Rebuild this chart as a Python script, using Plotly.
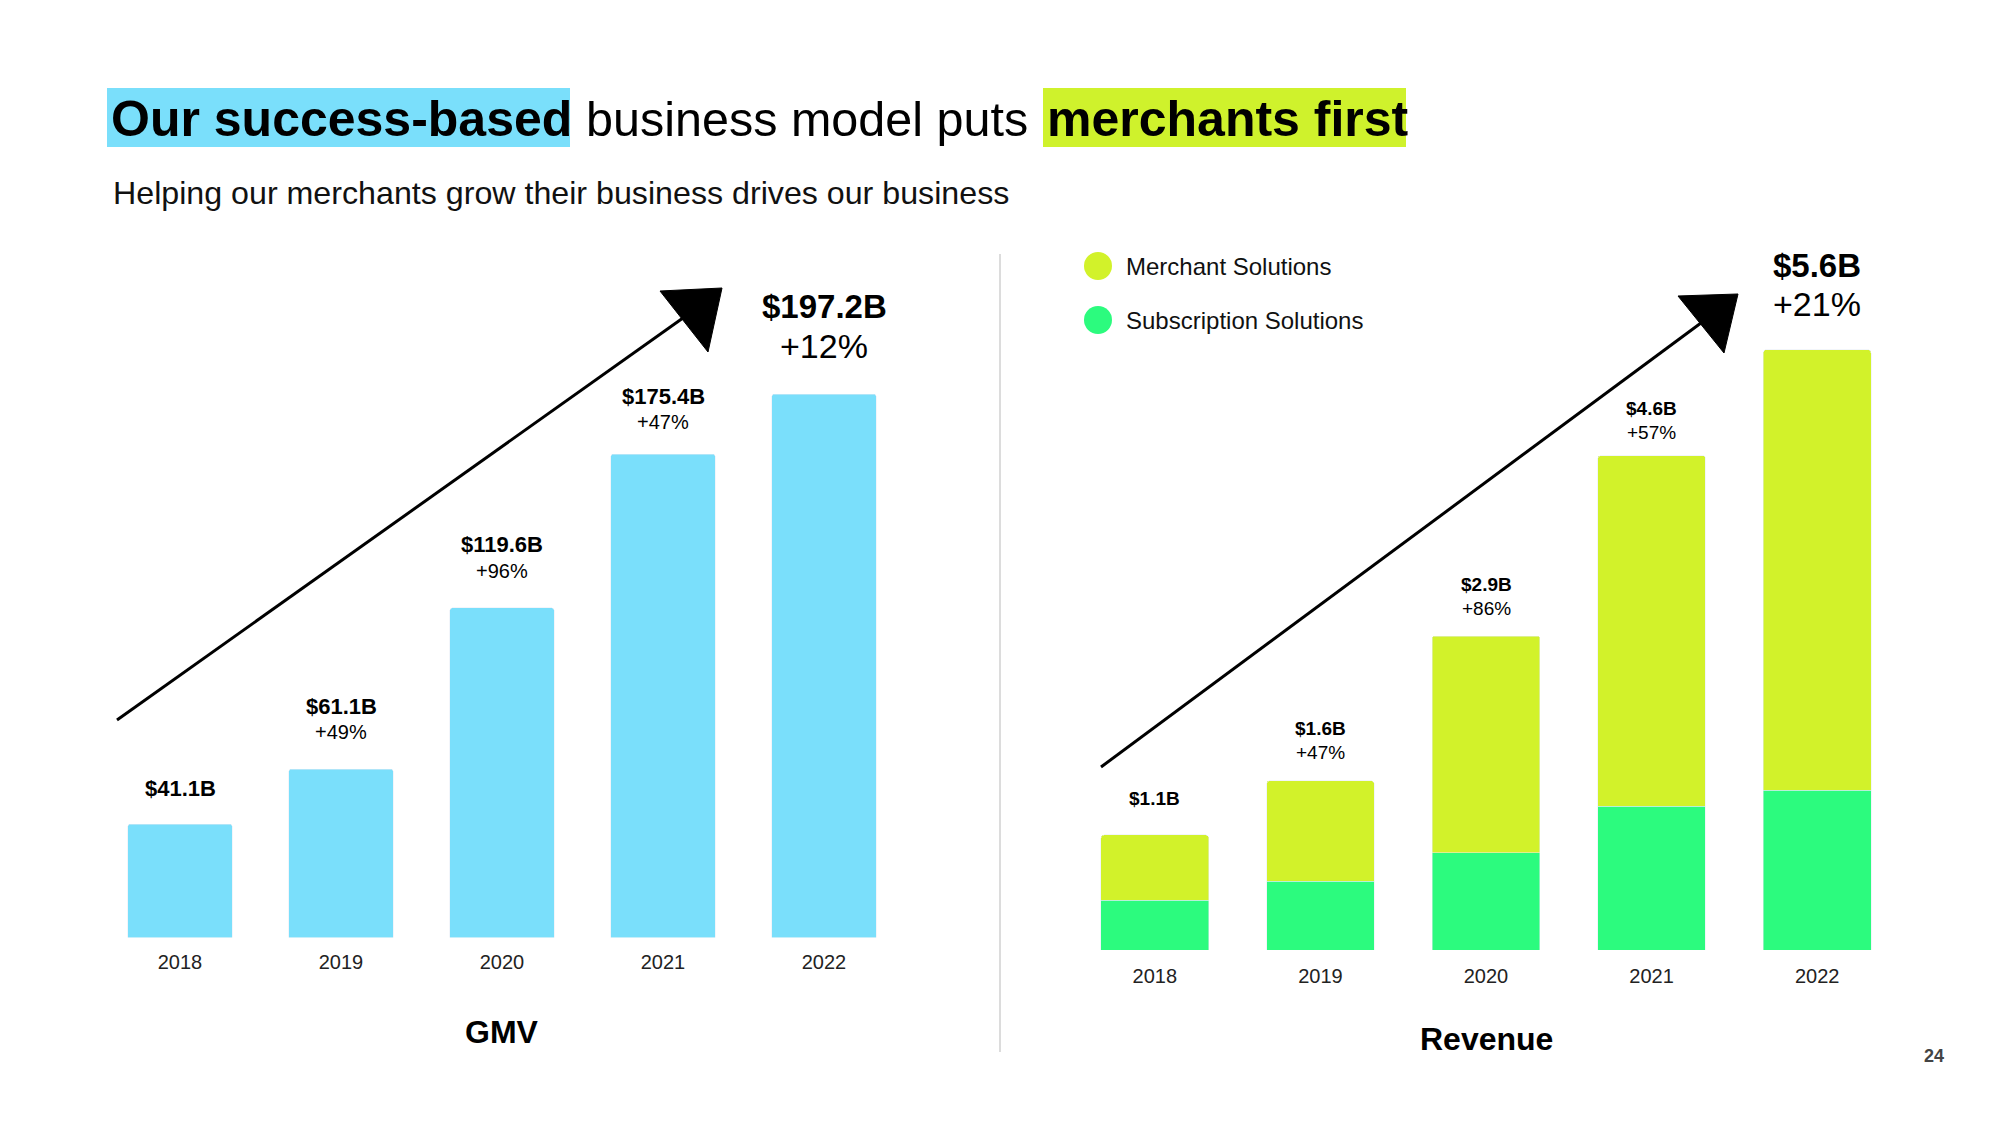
import plotly.graph_objects as go

# ---------------- data ----------------
years = ["2018", "2019", "2020", "2021", "2022"]
gmv = [41.1, 61.1, 119.6, 175.4, 197.2]
gmv_labels = ["$41.1B", "$61.1B", "$119.6B", "$175.4B", "$197.2B"]
gmv_growth = ["", "+49%", "+96%", "+47%", "+12%"]

rev_subscription = [0.465, 0.642, 0.909, 1.343, 1.488]
rev_merchant = [0.608, 0.936, 2.020, 3.269, 4.112]
rev_labels = ["$1.1B", "$1.6B", "$2.9B", "$4.6B", "$5.6B"]
rev_growth = ["", "+47%", "+86%", "+57%", "+21%"]

series_names = ["Merchant Solutions", "Subscription Solutions"]

# ---------------- styling ----------------
W, H = 2000, 1125
FONT = "Liberation Sans, Arial, Helvetica, sans-serif"
CYAN = "#7ADFFB"
LIME = "#D2F22A"
MINT = "#2CFB7E"
HL_LIME = "#CFF22C"

# label offsets above bar tops (pixels): value line, growth line
gmv_val_shift = [36, 63, 63, 58, 88]
gmv_pct_shift = [0, 37, 37, 32, 48]
rev_val_shift = [36, 52, 52, 47, 84]
rev_pct_shift = [0, 28, 28, 23, 46]


def px(x):
    return x / W


def py(y):
    return 1 - y / H


fig = go.Figure()

fig.add_trace(go.Bar(x=years, y=gmv, marker_color=CYAN, xaxis="x", yaxis="y",
                     showlegend=False, hoverinfo="x+y"))
fig.add_trace(go.Bar(x=years, y=rev_subscription, name=series_names[1], marker_color=MINT,
                     xaxis="x2", yaxis="y2", showlegend=False))
fig.add_trace(go.Bar(x=years, y=rev_merchant, name=series_names[0], marker_color=LIME,
                     xaxis="x2", yaxis="y2", showlegend=False))

rev_total = [a + b for a, b in zip(rev_subscription, rev_merchant)]

ann = []
shapes = []

# --- title with highlight boxes ---
shapes.append(dict(type="rect", xref="paper", yref="paper", x0=px(107), x1=px(570),
                   y0=py(147), y1=py(88), fillcolor=CYAN, line_width=0, layer="below"))
shapes.append(dict(type="rect", xref="paper", yref="paper", x0=px(1043), x1=px(1406),
                   y0=py(147), y1=py(88), fillcolor=HL_LIME, line_width=0, layer="below"))
title_y = py(119)
ann.append(dict(text="<b>Our success-based</b>", x=px(109), y=title_y, xref="paper", yref="paper",
                xanchor="left", yanchor="middle", showarrow=False,
                font=dict(family=FONT, size=50, color="#000")))
ann.append(dict(text="business model puts", x=px(584), y=title_y, xref="paper", yref="paper",
                xanchor="left", yanchor="middle", showarrow=False,
                font=dict(family=FONT, size=48.5, color="#000")))
ann.append(dict(text="<b>merchants first</b>", x=px(1045), y=title_y, xref="paper", yref="paper",
                xanchor="left", yanchor="middle", showarrow=False,
                font=dict(family=FONT, size=50, color="#000")))
ann.append(dict(text="Helping our merchants grow their business drives our business",
                x=px(111), y=py(193), xref="paper", yref="paper", xanchor="left", yanchor="middle",
                showarrow=False, font=dict(family=FONT, size=32.2, color="#111")))

# --- GMV labels (x given as category index) ---
for i, (v, lab, g) in enumerate(zip(gmv, gmv_labels, gmv_growth)):
    big = i == len(gmv) - 1
    ann.append(dict(text=f"<b>{lab}</b>", x=i, y=v, xref="x", yref="y", yanchor="middle",
                    yshift=gmv_val_shift[i], showarrow=False,
                    font=dict(family=FONT, size=33 if big else 22, color="#000")))
    if g:
        ann.append(dict(text=g, x=i, y=v, xref="x", yref="y", yanchor="middle",
                        yshift=gmv_pct_shift[i], showarrow=False,
                        font=dict(family=FONT, size=34 if big else 20, color="#000")))

# --- Revenue labels ---
for i, (v, lab, g) in enumerate(zip(rev_total, rev_labels, rev_growth)):
    big = i == len(rev_total) - 1
    ann.append(dict(text=f"<b>{lab}</b>", x=i, y=v, xref="x2", yref="y2", yanchor="middle",
                    yshift=rev_val_shift[i], showarrow=False,
                    font=dict(family=FONT, size=33 if big else 19, color="#000")))
    if g:
        ann.append(dict(text=g, x=i, y=v, xref="x2", yref="y2", yanchor="middle",
                        yshift=rev_pct_shift[i], showarrow=False,
                        font=dict(family=FONT, size=34 if big else 19, color="#000")))

# --- chart titles ---
ann.append(dict(text="<b>GMV</b>", x=0.5, y=py(1032), xref="x domain", yref="paper",
                yanchor="middle", showarrow=False, font=dict(family=FONT, size=32, color="#000")))
ann.append(dict(text="<b>Revenue</b>", x=0.5, y=py(1039), xref="x2 domain", yref="paper",
                yanchor="middle", showarrow=False, font=dict(family=FONT, size=32, color="#000")))

# --- legend (custom) ---
for name, col, cy in [(series_names[0], LIME, 266), (series_names[1], MINT, 320)]:
    shapes.append(dict(type="circle", xref="paper", yref="paper", x0=px(1084), x1=px(1112),
                       y0=py(cy + 14), y1=py(cy - 14), fillcolor=col, line_width=0))
    ann.append(dict(text=name, x=px(1124), y=py(cy), xref="paper", yref="paper", xanchor="left",
                    yanchor="middle", showarrow=False, font=dict(family=FONT, size=24, color="#111")))

# --- page number ---
ann.append(dict(text="<b>24</b>", x=px(1946), y=py(1068), xref="paper", yref="paper",
                showarrow=False, font=dict(family=FONT, size=18, color="#444")))

# --- divider ---
shapes.append(dict(type="line", xref="paper", yref="paper", x0=px(1000), x1=px(1000),
                   y0=py(254), y1=py(1052), line=dict(color="#D0D0D0", width=1.5)))


# --- trend arrows ---
def arrow(start, join, tri):
    s = [dict(type="line", xref="paper", yref="paper", x0=px(start[0]), y0=py(start[1]),
              x1=px(join[0]), y1=py(join[1]), line=dict(color="#000", width=3))]
    path = "M " + " L ".join(f"{px(a):.5f},{py(b):.5f}" for a, b in tri) + " Z"
    s.append(dict(type="path", xref="paper", yref="paper", path=path, fillcolor="#000",
                  line=dict(color="#000", width=1)))
    return s


shapes += arrow((117, 720), (690, 313), [(660, 291), (722, 288), (708, 352)])
shapes += arrow((1101, 767), (1705, 320), [(1678, 296), (1738, 294), (1724, 353)])

# ---------------- layout ----------------
ax_common = dict(type="category", showgrid=False, zeroline=False, showline=False, ticks="",
                 automargin=False,
                 tickfont=dict(family=FONT, size=20, color="#222"), fixedrange=True)
ay_common = dict(showgrid=False, zeroline=False, showline=False, showticklabels=False,
                 automargin=False, fixedrange=True)

fig.update_layout(
    width=W, height=H,
    margin=dict(l=0, r=0, t=0, b=0, autoexpand=False),
    paper_bgcolor="white", plot_bgcolor="white",
    barmode="stack",
    bargap=0.35,
    barcornerradius=3,
    xaxis=dict(domain=[px(99.5), px(904.5)], range=[-0.5, 4.5], anchor="y",
               ticklabelstandoff=10, **ax_common),
    yaxis=dict(domain=[py(937.5), py(937.5 - 220 * 2.756)], range=[0, 220], anchor="x", **ay_common),
    xaxis2=dict(domain=[px(1072), px(1900)], range=[-0.5, 4.5], anchor="y2",
                ticklabelstandoff=12, **ax_common),
    yaxis2=dict(domain=[py(950), py(950 - 6 * 107.2)], range=[0, 6], anchor="x2", **ay_common),
    annotations=ann,
    shapes=shapes,
    font=dict(family=FONT),
)

fig.write_html("out.html")
